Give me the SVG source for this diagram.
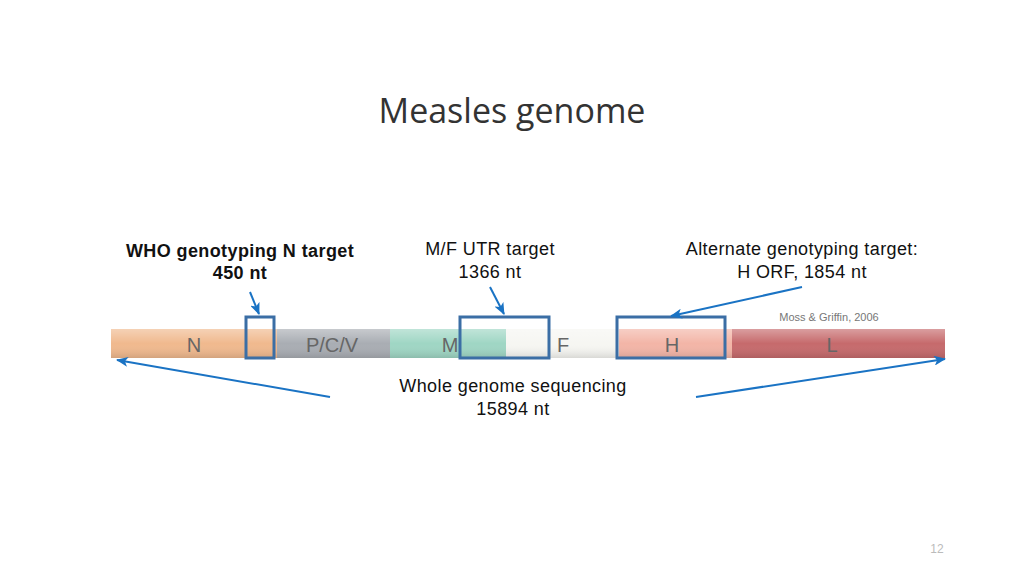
<svg xmlns="http://www.w3.org/2000/svg" width="1024" height="576" viewBox="0 0 1024 576">
<defs>
<marker id="ah" markerWidth="12" markerHeight="10" refX="11" refY="5" orient="auto" markerUnits="userSpaceOnUse"><path d="M0,0 L12,5 L0,10 L3,5 Z" fill="#1a73c4"/></marker>
<linearGradient id="sh" x1="0" y1="0" x2="0" y2="1"><stop offset="0" stop-color="#fff" stop-opacity="0.35"/><stop offset="0.5" stop-color="#fff" stop-opacity="0"/><stop offset="1" stop-color="#000" stop-opacity="0.12"/></linearGradient>
</defs>
<style>
text{font-family:"Liberation Sans",Arial,sans-serif;}
.lbl{font-size:18px;fill:#111;text-anchor:middle;letter-spacing:0.4px;}
.seg{font-size:20px;fill:#666;text-anchor:middle;}
.box{fill:none;stroke:#3b6ea5;stroke-width:3;}
.con{stroke:#1a73c4;stroke-width:2;fill:none;marker-end:url(#ah);}
</style>
<rect width="1024" height="576" fill="#fff"/>
<text x="512" y="123" font-size="34" fill="#333" text-anchor="middle" style="font-family:'Open Sans','Liberation Sans',sans-serif">Measles genome</text>
<g id="bar">
<rect x="111" y="329" width="166" height="29" fill="#f0b98e"/>
<rect x="277" y="329" width="113" height="29" fill="#a9adb3"/>
<rect x="390" y="329" width="116" height="29" fill="#9fd6c4"/>
<rect x="506" y="329" width="113" height="29" fill="#f6f6f2"/>
<rect x="619" y="329" width="113" height="29" fill="#f3b5a7"/>
<rect x="732" y="329" width="213" height="29" fill="#c66a6c"/>
<rect x="111" y="329" width="834" height="29" fill="url(#sh)"/>
<text class="seg" x="194" y="352">N</text>
<text class="seg" x="332" y="352">P/C/V</text>
<text class="seg" x="450" y="352">M</text>
<text class="seg" x="563" y="352">F</text>
<text class="seg" x="672" y="352">H</text>
<text class="seg" x="832" y="352">L</text>
</g>
<g id="boxes">
<rect class="box" x="246" y="317" width="28" height="41"/>
<rect class="box" x="460" y="317" width="89" height="41"/>
<rect class="box" x="617" y="317" width="108" height="41"/>
</g>
<g id="labels">
<text class="lbl" x="240" y="257" font-weight="bold" letter-spacing="0">WHO genotyping N target</text>
<text class="lbl" x="240" y="279" font-weight="bold" letter-spacing="0">450 nt</text>
<text class="lbl" x="490" y="255">M/F UTR target</text>
<text class="lbl" x="490" y="278">1366  nt</text>
<text class="lbl" x="802" y="255">Alternate genotyping target:</text>
<text class="lbl" x="802" y="278">H ORF, 1854 nt</text>
<text x="829" y="321" font-size="11" fill="#777" text-anchor="middle">Moss &amp; Griffin, 2006</text>
<text class="lbl" x="513" y="392">Whole genome sequencing</text>
<text class="lbl" x="513" y="415">15894 nt</text>
<text x="937" y="553" font-size="12" fill="#bbb" text-anchor="middle">12</text>
</g>
<g id="connectors">
<line class="con" x1="250" y1="292" x2="259" y2="314"/>
<line class="con" x1="490" y1="287" x2="504" y2="314"/>
<line class="con" x1="802" y1="287" x2="671" y2="316"/>
<line class="con" x1="330" y1="397" x2="117" y2="360"/>
<line class="con" x1="696" y1="397" x2="945" y2="359"/>
</g>
</svg>
